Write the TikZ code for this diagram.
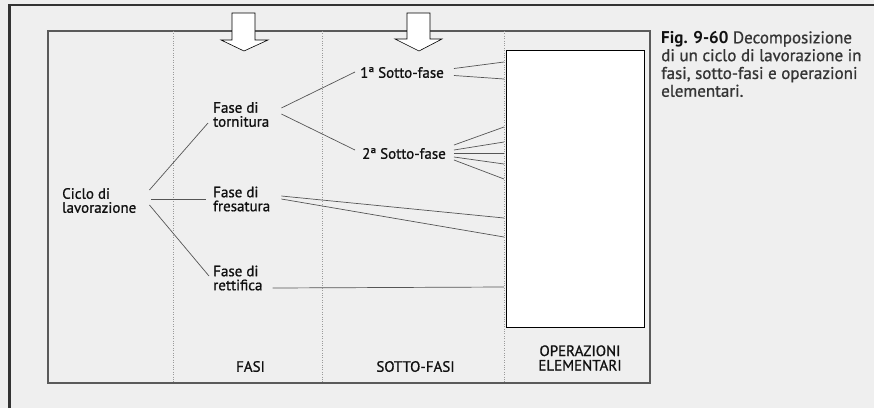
\documentclass[tikz,border=0pt]{standalone}
\usepackage{fontspec}
\setmainfont{PT Sans}[UprightFeatures={FakeBold=0.9}]
\definecolor{bg}{HTML}{EFEFEF}
\definecolor{frame}{HTML}{333333}
\definecolor{inner}{HTML}{5A5A5A}
\definecolor{txt}{HTML}{111111}
\definecolor{ln}{HTML}{555555}
\definecolor{dv}{HTML}{9A9A9A}
\begin{document}
\begin{tikzpicture}[x=1pt,y=-1pt,
  lab/.style={font=\fontsize{15}{14}\selectfont, align=left, inner sep=0pt, text=txt},
  head/.style={font=\fontsize{15}{14.5}\selectfont, align=center, inner sep=0pt, text=txt},
  conn/.style={draw=ln, line width=0.7pt},
  divider/.style={draw=dv, line width=0.6pt, dash pattern=on 0.8pt off 1.6pt},
  bigarrow/.style={draw=black, fill=white, line width=0.6pt, line join=miter}]
\useasboundingbox (0,0) rectangle (874,408);
\fill[bg] (0,0) rectangle (874,408);
% outer frame
\draw[line width=2.5pt, draw=frame] (9.5,408) -- (9.5,5) -- (874,5);
% inner frame
\draw[line width=1.4pt, draw=inner] (48,31) rectangle (650,383);
% column dividers
\draw[divider] (173,31) -- (173,383);
\draw[divider] (322,31) -- (322,383);
\draw[divider] (504,31) -- (504,383);
% white box
\node[draw=black, fill=white, line width=0.8pt, minimum width=138pt, minimum height=277pt, inner sep=0pt, anchor=north west] (box) at (506,50) {};
% arrows
\draw[bigarrow] (232,13) -- (255,13) -- (255,40) -- (268,40) -- (244,51) -- (221,40) -- (232,40) -- cycle;
\draw[bigarrow] (407,13) -- (430,13) -- (430,39) -- (442,39) -- (419,51) -- (395,39) -- (407,39) -- cycle;
% labels
\node[lab, anchor=west] (cic) at (62,200.5) {Ciclo di\\lavorazione};
\node[lab, anchor=west] (tor) at (213,114.5) {Fase di\\tornitura};
\node[lab, anchor=west] (fre) at (213,199) {Fase di\\fresatura};
\node[lab, anchor=west] (ret) at (213,278) {Fase di\\rettifica};
\node[lab, anchor=west] (s1) at (360,72.5) {1ª Sotto-fase};
\node[lab, anchor=west] (s2) at (362,153.5) {2ª Sotto-fase};
\node[head] (hf) at (250.5,366.5) {FASI};
\node[head] (hs) at (415.5,366.5) {SOTTO-FASI};
\node[head] (ho) at (580,358) {OPERAZIONI\\ELEMENTARI};
\node[font=\fontsize{17}{17.8}\selectfont, align=left, inner sep=0pt, text=txt!85!white, anchor=north west] (cap) at (661,31)
  {{\bfseries\color{txt} Fig. 9-60} Decomposizione\\di un ciclo di lavorazione in\\fasi, sotto-fasi e operazioni\\elementari.};
% connectors
\draw[conn] ([shift={(13,-10.5)}]cic.east) -- ([shift={(-5,8.5)}]tor.west);
\draw[conn] ([shift={(15,-1.5)}]cic.east) -- ([shift={(-7,0)}]fre.west);
\draw[conn] ([shift={(13,4.5)}]cic.east) -- ([shift={(-4,-2)}]ret.west);
\draw[conn] ([shift={(12,-6.5)}]tor.east) -- ([shift={(-5,-0.5)}]s1.west);
\draw[conn] ([shift={(12,-0.5)}]tor.east) -- ([shift={(-7,-3.5)}]s2.west);
\draw[conn] ([shift={(10,-4)}]s1.east) -- ([shift={(-2,12)}]box.north west);
\draw[conn] ([shift={(10,3)}]s1.east) -- ([shift={(-2,29)}]box.north west);
\draw[conn] ([shift={(8,-8.5)}]s2.east) -- ([shift={(-2,77)}]box.north west);
\draw[conn] ([shift={(8,-3.5)}]s2.east) -- ([shift={(-2,92)}]box.north west);
\draw[conn] ([shift={(8,-0.5)}]s2.east) -- ([shift={(-2,103)}]box.north west);
\draw[conn] ([shift={(8,3.5)}]s2.east) -- ([shift={(-2,114)}]box.north west);
\draw[conn] ([shift={(8,6.5)}]s2.east) -- ([shift={(-2,129)}]box.north west);
\draw[conn] ([shift={(11,-3)}]fre.east) -- ([shift={(-2,168)}]box.north west);
\draw[conn] ([shift={(11,0)}]fre.east) -- ([shift={(-2,187)}]box.north west);
\draw[conn] ([shift={(10,10)}]ret.east) -- ([shift={(-2,237)}]box.north west);
\end{tikzpicture}
\end{document}
